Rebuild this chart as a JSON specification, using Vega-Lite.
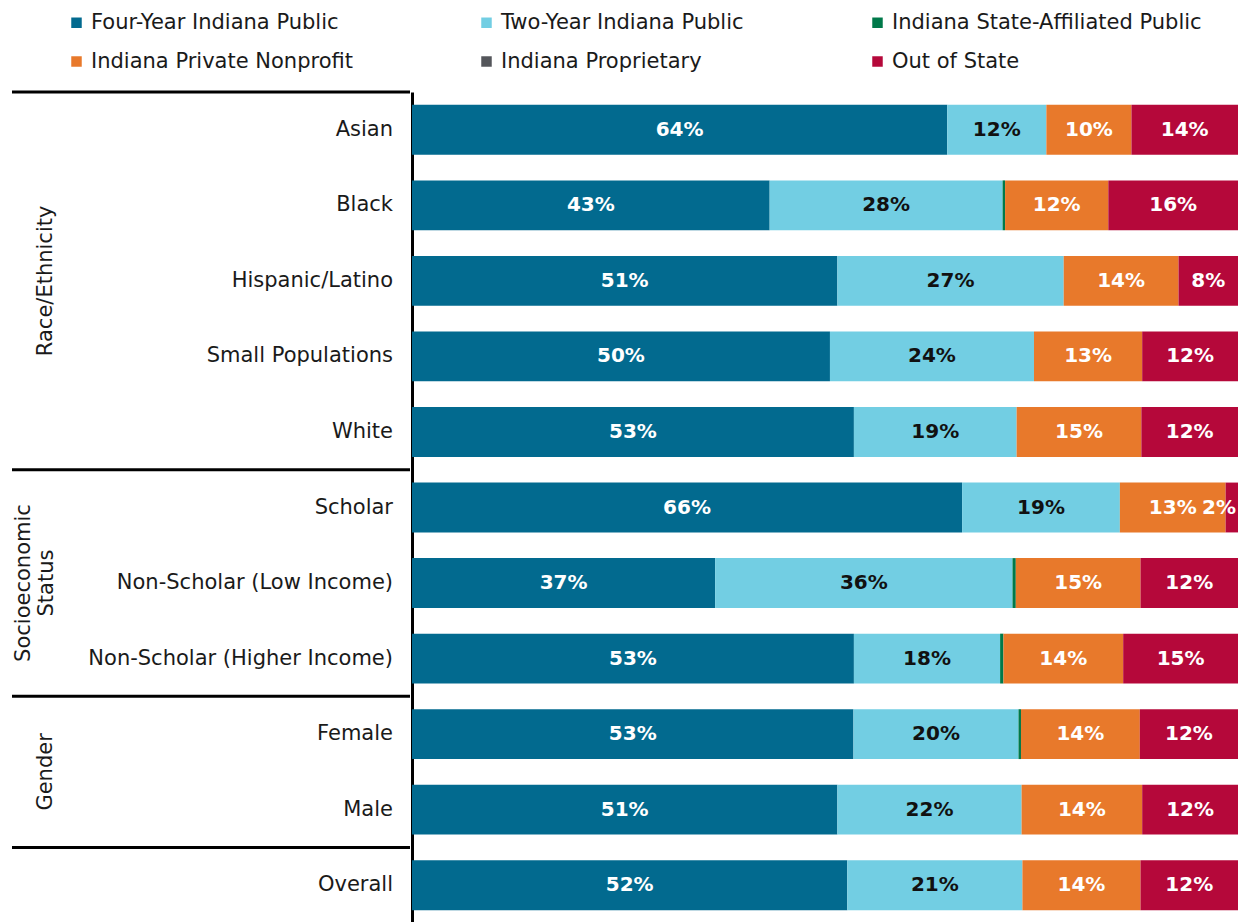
{
  "$schema": "https://vega.github.io/schema/vega-lite/v6.json",
  "padding": {"left": 10, "top": 12, "right": 0, "bottom": 0},
  "background": "white",
  "config": {"view": {"stroke": null}, "font": "DejaVu Sans"},
  "spacing": 0,
  "datasets": {
    "bars": [
      {"cat": "Asian", "type": "Four-Year Indiana Public", "pct": 64.8, "label": "64%"},
      {"cat": "Asian", "type": "Two-Year Indiana Public", "pct": 12.0, "label": "12%"},
      {"cat": "Asian", "type": "Indiana Private Nonprofit", "pct": 10.3, "label": "10%"},
      {"cat": "Asian", "type": "Out of State", "pct": 12.9, "label": "14%"},
      {"cat": "Black", "type": "Four-Year Indiana Public", "pct": 43.3, "label": "43%"},
      {"cat": "Black", "type": "Two-Year Indiana Public", "pct": 28.2, "label": "28%"},
      {"cat": "Black", "type": "Indiana State-Affiliated Public", "pct": 0.3, "label": ""},
      {"cat": "Black", "type": "Indiana Private Nonprofit", "pct": 12.5, "label": "12%"},
      {"cat": "Black", "type": "Out of State", "pct": 15.7, "label": "16%"},
      {"cat": "Hispanic/Latino", "type": "Four-Year Indiana Public", "pct": 51.5, "label": "51%"},
      {"cat": "Hispanic/Latino", "type": "Two-Year Indiana Public", "pct": 27.4, "label": "27%"},
      {"cat": "Hispanic/Latino", "type": "Indiana Private Nonprofit", "pct": 13.9, "label": "14%"},
      {"cat": "Hispanic/Latino", "type": "Out of State", "pct": 7.2, "label": "8%"},
      {"cat": "Small Populations", "type": "Four-Year Indiana Public", "pct": 50.6, "label": "50%"},
      {"cat": "Small Populations", "type": "Two-Year Indiana Public", "pct": 24.7, "label": "24%"},
      {"cat": "Small Populations", "type": "Indiana Private Nonprofit", "pct": 13.1, "label": "13%"},
      {"cat": "Small Populations", "type": "Out of State", "pct": 11.6, "label": "12%"},
      {"cat": "White", "type": "Four-Year Indiana Public", "pct": 53.5, "label": "53%"},
      {"cat": "White", "type": "Two-Year Indiana Public", "pct": 19.7, "label": "19%"},
      {"cat": "White", "type": "Indiana Private Nonprofit", "pct": 15.1, "label": "15%"},
      {"cat": "White", "type": "Out of State", "pct": 11.7, "label": "12%"},
      {"cat": "Scholar", "type": "Four-Year Indiana Public", "pct": 66.6, "label": "66%"},
      {"cat": "Scholar", "type": "Two-Year Indiana Public", "pct": 19.1, "label": "19%"},
      {"cat": "Scholar", "type": "Indiana Private Nonprofit", "pct": 12.8, "label": "13%"},
      {"cat": "Scholar", "type": "Out of State", "pct": 1.5, "label": "2%"},
      {"cat": "Non-Scholar (Low Income)", "type": "Four-Year Indiana Public", "pct": 36.7, "label": "37%"},
      {"cat": "Non-Scholar (Low Income)", "type": "Two-Year Indiana Public", "pct": 36.0, "label": "36%"},
      {"cat": "Non-Scholar (Low Income)", "type": "Indiana State-Affiliated Public", "pct": 0.4, "label": ""},
      {"cat": "Non-Scholar (Low Income)", "type": "Indiana Private Nonprofit", "pct": 15.1, "label": "15%"},
      {"cat": "Non-Scholar (Low Income)", "type": "Out of State", "pct": 11.8, "label": "12%"},
      {"cat": "Non-Scholar (Higher Income)", "type": "Four-Year Indiana Public", "pct": 53.5, "label": "53%"},
      {"cat": "Non-Scholar (Higher Income)", "type": "Two-Year Indiana Public", "pct": 17.7, "label": "18%"},
      {"cat": "Non-Scholar (Higher Income)", "type": "Indiana State-Affiliated Public", "pct": 0.4, "label": ""},
      {"cat": "Non-Scholar (Higher Income)", "type": "Indiana Private Nonprofit", "pct": 14.5, "label": "14%"},
      {"cat": "Non-Scholar (Higher Income)", "type": "Out of State", "pct": 13.9, "label": "15%"},
      {"cat": "Female", "type": "Four-Year Indiana Public", "pct": 53.5, "label": "53%"},
      {"cat": "Female", "type": "Two-Year Indiana Public", "pct": 20.0, "label": "20%"},
      {"cat": "Female", "type": "Indiana State-Affiliated Public", "pct": 0.3, "label": ""},
      {"cat": "Female", "type": "Indiana Private Nonprofit", "pct": 14.4, "label": "14%"},
      {"cat": "Female", "type": "Out of State", "pct": 11.9, "label": "12%"},
      {"cat": "Male", "type": "Four-Year Indiana Public", "pct": 51.5, "label": "51%"},
      {"cat": "Male", "type": "Two-Year Indiana Public", "pct": 22.3, "label": "22%"},
      {"cat": "Male", "type": "Indiana Private Nonprofit", "pct": 14.6, "label": "14%"},
      {"cat": "Male", "type": "Out of State", "pct": 11.6, "label": "12%"},
      {"cat": "Overall", "type": "Four-Year Indiana Public", "pct": 52.7, "label": "52%"},
      {"cat": "Overall", "type": "Two-Year Indiana Public", "pct": 21.2, "label": "21%"},
      {"cat": "Overall", "type": "Indiana Private Nonprofit", "pct": 14.3, "label": "14%"},
      {"cat": "Overall", "type": "Out of State", "pct": 11.8, "label": "12%"}
    ],
    "groups": [
      {"group": "Race/Ethnicity", "first": "Asian", "anchor": "Hispanic/Latino", "mid": "row"},
      {"group": "Socioeconomic|Status", "first": "Scholar", "anchor": "Non-Scholar (Low Income)", "mid": "row2"},
      {"group": "Gender", "first": "Female", "anchor": "Female", "mid": "edge"},
      {"group": "", "first": "Overall", "anchor": "Overall", "mid": "none"}
    ]
  },
  "hconcat": [
    {
      "width": 398,
      "height": 831,
      "layer": [
        {
          "data": {"name": "bars"},
          "transform": [{"filter": "datum.type === 'Four-Year Indiana Public'"}],
          "mark": {"type": "text", "align": "right", "baseline": "middle", "x": "width", "dx": -17, "fontSize": 21, "font": "DejaVu Sans", "color": "#1a1a1a"},
          "encoding": {
            "y": {
              "field": "cat", "type": "nominal", "axis": null,
              "scale": {"domain": ["Asian", "Black", "Hispanic/Latino", "Small Populations", "White", "Scholar", "Non-Scholar (Low Income)", "Non-Scholar (Higher Income)", "Female", "Male", "Overall"], "paddingInner": 0, "paddingOuter": 0}
            },
            "text": {"field": "cat", "type": "nominal"}
          }
        },
        {
          "data": {"name": "groups"},
          "mark": {"type": "rule", "color": "black", "strokeWidth": 3},
          "encoding": {
            "y": {"field": "first", "type": "nominal", "bandPosition": 0}
          }
        },
        {
          "data": {"name": "groups"},
          "transform": [{"filter": "datum.mid === 'row'"}],
          "mark": {"type": "text", "angle": 270, "align": "center", "baseline": "middle", "x": 34, "fontSize": 21, "font": "DejaVu Sans", "color": "#1a1a1a"},
          "encoding": {
            "y": {"field": "anchor", "type": "nominal", "bandPosition": 0.5},
            "text": {"field": "group", "type": "nominal"}
          }
        },
        {
          "data": {"name": "groups"},
          "transform": [{"filter": "datum.mid === 'row2'"}],
          "mark": {"type": "text", "angle": 270, "align": "center", "baseline": "middle", "x": 12, "fontSize": 21, "lineHeight": 23, "lineBreak": "|", "font": "DejaVu Sans", "color": "#1a1a1a"},
          "encoding": {
            "y": {"field": "anchor", "type": "nominal", "bandPosition": 0.5},
            "text": {"field": "group", "type": "nominal"}
          }
        },
        {
          "data": {"name": "groups"},
          "transform": [{"filter": "datum.mid === 'edge'"}],
          "mark": {"type": "text", "angle": 270, "align": "center", "baseline": "middle", "x": 34, "fontSize": 21, "font": "DejaVu Sans", "color": "#1a1a1a"},
          "encoding": {
            "y": {"field": "anchor", "type": "nominal", "bandPosition": 1},
            "text": {"field": "group", "type": "nominal"}
          }
        }
      ]
    },
    {
      "width": 826,
      "height": 831,
      "data": {"name": "bars"},
      "transform": [
        {"calculate": "indexof(['Four-Year Indiana Public','Two-Year Indiana Public','Indiana State-Affiliated Public','Indiana Private Nonprofit','Indiana Proprietary','Out of State'], datum.type)", "as": "k"},
        {"stack": "pct", "groupby": ["cat"], "sort": [{"field": "k", "order": "ascending"}], "offset": "normalize", "as": ["x0", "x1"]},
        {"calculate": "(datum.x0 + datum.x1) / 2", "as": "mid"}
      ],
      "encoding": {
        "y": {
          "field": "cat", "type": "nominal",
          "scale": {"domain": ["Asian", "Black", "Hispanic/Latino", "Small Populations", "White", "Scholar", "Non-Scholar (Low Income)", "Non-Scholar (Higher Income)", "Female", "Male", "Overall"], "paddingInner": 0.34, "paddingOuter": 0.17},
          "axis": {"title": null, "labels": false, "ticks": false, "domain": true, "domainColor": "black", "domainWidth": 3, "grid": false}
        }
      },
      "layer": [
        {
          "mark": {"type": "bar"},
          "encoding": {
            "x": {"field": "x0", "type": "quantitative", "scale": {"domain": [0, 1], "nice": false}, "axis": null},
            "x2": {"field": "x1"},
            "color": {
              "field": "type", "type": "nominal",
              "scale": {
                "domain": ["Four-Year Indiana Public", "Two-Year Indiana Public", "Indiana State-Affiliated Public", "Indiana Private Nonprofit", "Indiana Proprietary", "Out of State"],
                "range": ["#026a8f", "#72cee3", "#00794a", "#e8792b", "#54565b", "#b5083a"]
              },
              "legend": {
                "orient": "none", "legendX": 54, "legendY": -80, "direction": "horizontal", "columns": 3, "columnPadding": 123, "rowPadding": 17,
                "title": null, "symbolType": "square", "symbolSize": 110, "symbolStrokeWidth": 0,
                "labelFontSize": 21, "labelFont": "DejaVu Sans", "labelColor": "#1a1a1a", "labelOffset": 4, "labelLimit": 400
              }
            }
          }
        },
        {
          "transform": [{"filter": "datum.label !== '' && datum.pct >= 5"}],
          "mark": {"type": "text", "align": "center", "baseline": "middle", "fontSize": 20, "fontWeight": "bold", "font": "DejaVu Sans"},
          "encoding": {
            "x": {"field": "mid", "type": "quantitative"},
            "text": {"field": "label", "type": "nominal"},
            "color": {"condition": {"test": "datum.type === 'Two-Year Indiana Public'", "value": "#111111"}, "value": "white"}
          }
        },
        {
          "transform": [{"filter": "datum.label !== '' && datum.pct < 5"}],
          "mark": {"type": "text", "align": "right", "baseline": "middle", "dx": -2, "fontSize": 20, "fontWeight": "bold", "font": "DejaVu Sans", "color": "white"},
          "encoding": {
            "x": {"field": "x1", "type": "quantitative"},
            "text": {"field": "label", "type": "nominal"}
          }
        }
      ]
    }
  ]
}
